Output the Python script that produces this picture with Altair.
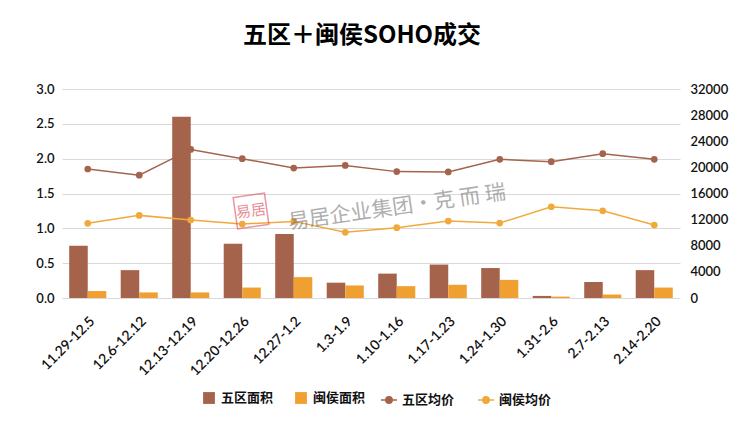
import altair as alt
import pandas as pd

categories = ["11.29-12.5", "12.6-12.12", "12.13-12.19", "12.20-12.26", "12.27-1.2", "1.3-1.9",
              "1.10-1.16", "1.17-1.23", "1.24-1.30", "1.31-2.6", "2.7-2.13", "2.14-2.20"]
wuqu_area = [0.75, 0.40, 2.60, 0.78, 0.92, 0.22, 0.35, 0.48, 0.43, 0.03, 0.23, 0.40]
minhou_area = [0.10, 0.08, 0.08, 0.15, 0.30, 0.18, 0.17, 0.19, 0.26, 0.02, 0.05, 0.15]
wuqu_price = [19750, 18800, 22750, 21330, 19900, 20300, 19350, 19300, 21230, 20880, 22100, 21230]
minhou_price = [11430, 12650, 11940, 11330, 11730, 10060, 10770, 11780, 11480, 13970, 13360, 11180]
right_ticks = [0, 4000, 8000, 12000, 16000, 20000, 24000, 28000, 32000]

bar_series = ["五区面积", "闽侯面积"]
line_series = ["五区均价", "闽侯均价"]
BROWN = "#A5634C"
ORANGE = "#F0A030"

bars_df = pd.DataFrame({
    "week": categories * 2,
    "series": [bar_series[0]] * len(categories) + [bar_series[1]] * len(categories),
    "value": wuqu_area + minhou_area,
})
lines_df = pd.DataFrame({
    "week": categories * 2,
    "series": [line_series[0]] * len(categories) + [line_series[1]] * len(categories),
    "price": wuqu_price + minhou_price,
})

FONT_NUM = "Lato"
FONT_CJK = "Noto Sans CJK SC"

x_enc = alt.X("week:N", sort=categories, title=None,
              scale=alt.Scale(paddingInner=0.28, paddingOuter=0.14),
              axis=alt.Axis(labelAngle=315, labelFont=FONT_NUM, labelFontSize=14,
                            labelFontWeight=600, labelColor="#111", ticks=False,
                            domain=False, labelPadding=16))

bars = alt.Chart(bars_df).mark_bar().encode(
    x=x_enc,
    xOffset=alt.XOffset("series:N", sort=bar_series, scale=alt.Scale(paddingInner=0, paddingOuter=0)),
    y=alt.Y("value:Q", title=None,
            scale=alt.Scale(domain=[0, 3]),
            axis=alt.Axis(values=[0, 0.5, 1, 1.5, 2, 2.5, 3], format=".1f", grid=True,
                          gridColor="#d9d9d9", ticks=False, domain=False,
                          labelFont=FONT_NUM, labelFontSize=13, labelFontWeight=600,
                          labelColor="#111", labelPadding=8)),
    color=alt.Color("series:N", sort=bar_series,
                    scale=alt.Scale(domain=bar_series, range=[BROWN, ORANGE]),
                    legend=alt.Legend(title=None, orient="none", direction="horizontal",
                                      legendX=140, legendY=302, symbolType="square",
                                      symbolSize=140, labelFont=FONT_CJK, labelFontSize=13,
                                      labelFontWeight="bold", labelColor="#111",
                                      columnPadding=20, labelOffset=5)),
)

line_symbol = ("M-1,0L1,0M-0.4,0A0.4,0.4,0,1,1,0.4,0A0.4,0.4,0,1,1,-0.4,0"
               "M-0.2,0A0.2,0.2,0,1,1,0.2,0A0.2,0.2,0,1,1,-0.2,0")

lines = alt.Chart(lines_df).mark_line(
    strokeWidth=1.5, point=alt.OverlayMarkDef(filled=True, size=45, opacity=1)
).encode(
    x=alt.X("week:N", sort=categories),
    y=alt.Y("price:Q", title=None,
            scale=alt.Scale(domain=[0, 32000]),
            axis=alt.Axis(orient="right", values=right_ticks, format="d", grid=False,
                          ticks=False, domain=False, labelFont=FONT_NUM, labelFontSize=13,
                          labelFontWeight=600, labelColor="#111", labelPadding=10)),
    color=alt.Color("series:N", sort=line_series,
                    scale=alt.Scale(domain=line_series, range=[BROWN, "#F2A93B"]),
                    legend=alt.Legend(title=None, orient="none", direction="horizontal",
                                      legendX=318, legendY=302, symbolType=line_symbol,
                                      symbolSize=256, symbolStrokeWidth=1.5,
                                      labelFont=FONT_CJK, labelFontSize=13,
                                      labelFontWeight="bold", labelColor="#111",
                                      columnPadding=20, labelOffset=4)),
)

one = pd.DataFrame({"k": [0]})
wm_text = alt.Chart(one).mark_text(
    text="易居企业集团·克 而 瑞", font=FONT_CJK, fontSize=21, color="#6f6f6f",
    opacity=0.55, angle=352, align="center", baseline="middle"
).encode(x=alt.value(335), y=alt.value(119))
wm_box = alt.Chart(one).mark_point(
    shape="square", filled=False, stroke="#E05060", strokeWidth=1.5, size=1000,
    opacity=0.6, angle=352
).encode(x=alt.value(189), y=alt.value(122))
wm_logo = alt.Chart(one).mark_text(
    text="易居", font=FONT_CJK, fontSize=15, color="#E05060", opacity=0.65,
    angle=352, align="center", baseline="middle"
).encode(x=alt.value(189), y=alt.value(122))

chart = alt.layer(bars, lines, wm_text, wm_box, wm_logo).resolve_scale(
    y="independent", color="independent"
).properties(
    width=618, height=209,
    title=alt.TitleParams("五区＋闽侯SOHO成交", font=FONT_CJK, fontSize=24, fontWeight="bold",
                          color="#000", anchor="middle", frame="group", offset=35, dx=-9),
    autosize=alt.AutoSizeParams(type="none"),
    padding={"left": 54, "top": 81, "right": 61, "bottom": 118},
).configure_view(stroke=None)

chart.save("out.html", embed_options={"renderer": "svg", "actions": False})
